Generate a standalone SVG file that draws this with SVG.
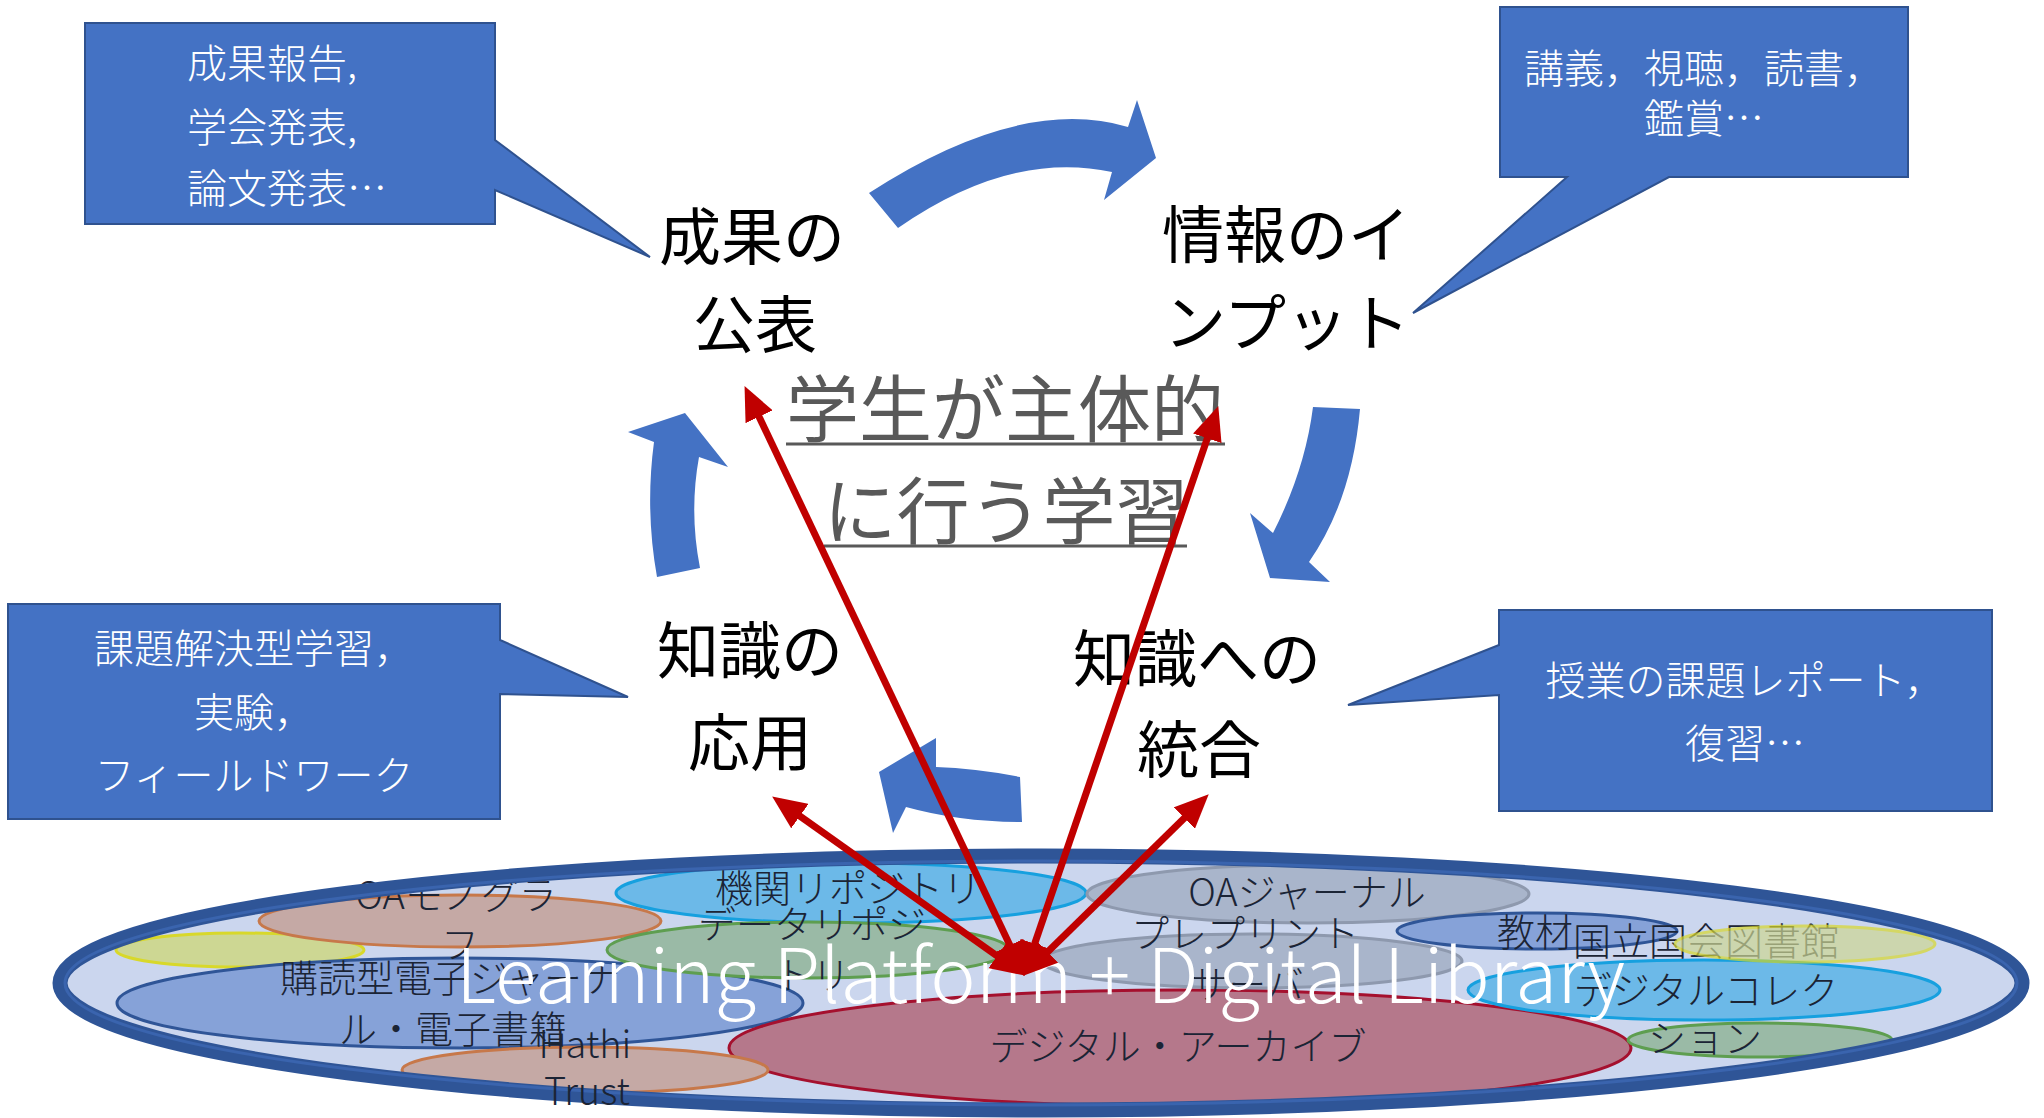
<svg xmlns="http://www.w3.org/2000/svg" width="2044" height="1118" viewBox="0 0 2044 1118">
<defs>
<style>
text{font-family:'Noto Sans CJK JP','Noto Sans',sans-serif}
.callout{fill:#4472C4;stroke:#2F528F;stroke-width:2}
.ct{font-size:40px;fill:#fff;font-weight:300}
.lb{font-size:62px;fill:#000;text-anchor:middle}
.cen{font-size:73px;fill:#595959;text-anchor:middle}
.ul{stroke:#595959;stroke-width:3}
.cyc{fill:#4472C4}
.red{stroke:#C00000;stroke-width:7;fill:none;marker-start:url(#ah);marker-end:url(#ah)}
.et{font-size:38px;fill:#1B2435;font-weight:300;text-anchor:middle}
.tan{fill:#C5A9A5;stroke:#C7784A;stroke-width:3}
.yel{fill:#CDD793;stroke:#D8D82A;stroke-width:3}
.mblue{fill:#86A2D8;stroke:#2F5597;stroke-width:3}
.sky{fill:#6CB9E8;stroke:#16A0DF;stroke-width:3}
.sage{fill:#9ABAA6;stroke:#5E9E50;stroke-width:3}
.gray{fill:#A9B5CB;stroke:#8E99AE;stroke-width:3}
.maroon{fill:#B5788B;stroke:#A5102E;stroke-width:3}
</style>
<marker id="ah" viewBox="0 0 34 30" refX="25" refY="15" markerUnits="userSpaceOnUse" markerWidth="34" markerHeight="30" orient="auto-start-reverse">
<path d="M0,0 L34,15 L0,30 Z" fill="#C00000"/>
</marker>
</defs>
<rect width="2044" height="1118" fill="#fff"/>

<!-- callouts -->
<g id="callout-publish">
<path class="callout" d="M85,23 H495 V140 L650,257 L495,190 V224 H85 Z"/>
<text class="ct" x="187" y="78">成果報告,</text>
<text class="ct" x="187" y="142">学会発表,</text>
<text class="ct" x="187" y="203">論文発表…</text>
</g>
<g id="callout-input">
<path class="callout" d="M1500,7 H1908 V177 H1669 L1413,313 L1567,177 H1500 Z"/>
<text class="ct" x="1704" y="83" text-anchor="middle">講義，視聴，読書，</text>
<text class="ct" x="1704" y="133" text-anchor="middle">鑑賞…</text>
</g>
<g id="callout-apply">
<path class="callout" d="M8,604 H500 V640 L628,697 L500,694 V819 H8 Z"/>
<text class="ct" x="254" y="663" text-anchor="middle">課題解決型学習，</text>
<text class="ct" x="254" y="727" text-anchor="middle">実験，</text>
<text class="ct" x="254" y="790" text-anchor="middle">フィールドワーク</text>
</g>
<g id="callout-integrate">
<path class="callout" d="M1499,610 H1992 V811 H1499 V695 L1348,705 L1499,645 Z"/>
<text class="ct" x="1745" y="695" text-anchor="middle">授業の課題レポート，</text>
<text class="ct" x="1745" y="758" text-anchor="middle">復習…</text>
</g>

<!-- cycle arrows -->
<g id="cycle-arrows">
<path class="cyc" d="M869,193 Q1020,95 1128,127 L1137,100 L1156,158 L1104,200 L1112,172 Q1010,150 898,228 Z"/>
<path class="cyc" d="M1313,407 L1360,409 Q1352,500 1309,562 L1330,582 L1270,578 L1250,513 L1273,533 Q1305,470 1313,407 Z"/>
<path class="cyc" d="M1020,777 Q975,768 936,767 L936,738 L879,772 L893,833 L906,807 Q960,822 1022,822 Z"/>
<path class="cyc" d="M657,577 L700,568 Q689,512 699,457 L728,467 L685,413 L628,432 L654,442 Q645,510 657,577 Z"/>
</g>

<!-- main labels -->
<g id="node-publish">
<text class="lb" x="752" y="260">成果の</text>
<text class="lb" x="755" y="348">公表</text>
</g>
<g id="node-input">
<text class="lb" x="1286" y="258">情報のイ</text>
<text class="lb" x="1287" y="346">ンプット</text>
</g>
<g id="node-apply">
<text class="lb" x="750" y="674">知識の</text>
<text class="lb" x="750" y="766">応用</text>
</g>
<g id="node-integrate">
<text class="lb" x="1197" y="682">知識への</text>
<text class="lb" x="1199" y="773">統合</text>
</g>
<g id="node-center">
<text class="cen" x="1005" y="436">学生が主体的</text>
<line class="ul" x1="786" y1="444" x2="1225" y2="444"/>
<text class="cen" x="1006" y="538">に行う学習</text>
<line class="ul" x1="824" y1="546" x2="1187" y2="546"/>
</g>

<!-- platform -->
<g id="platform">
<ellipse cx="1041" cy="983" rx="988" ry="134" fill="#CBD6EE"/>
<ellipse class="yel" cx="240" cy="950" rx="124" ry="17"/>
<ellipse class="tan" cx="460" cy="921" rx="201" ry="26"/>
<ellipse class="mblue" cx="460" cy="1003" rx="343" ry="45"/>
<ellipse class="maroon" cx="1180" cy="1048" rx="451" ry="58"/>
<ellipse class="tan" cx="585" cy="1070" rx="183" ry="23"/>
<ellipse class="sky" cx="851" cy="893" rx="235" ry="30"/>
<ellipse class="sage" cx="808" cy="950" rx="201" ry="28"/>
<ellipse class="gray" cx="1308" cy="894" rx="221" ry="29"/>
<ellipse class="gray" cx="1252" cy="961" rx="210" ry="27"/>
<ellipse class="mblue" cx="1537" cy="931" rx="140" ry="18"/>
<ellipse class="sky" cx="1704" cy="990" rx="236" ry="30"/>
<ellipse class="sage" cx="1760" cy="1040" rx="132" ry="17"/>
<text class="et" x="1706" y="955">国立国会図書館</text>
<ellipse class="yel" cx="1805" cy="944" rx="130" ry="18" opacity="0.7"/>
<text class="et" x="456" y="909">OAモノグラ</text>
<ellipse cx="1041" cy="983" rx="981" ry="127" fill="none" stroke="#2F5597" stroke-width="15"/>
<ellipse cx="1041" cy="983" rx="976" ry="122" fill="none" stroke="#3A64AE" stroke-width="3"/>
<text class="et" x="460" y="958">フ</text>
<text class="et" x="848" y="902">機関リポジトリ</text>
<text class="et" x="812" y="938">データリポジ</text>
<text class="et" x="812" y="989">トリ</text>
<text class="et" x="450" y="992">購読型電子ジャーナ</text>
<text class="et" x="453" y="1043">ル・電子書籍</text>
<text class="et" x="585" y="1058">Hathi</text>
<text class="et" x="587" y="1105">Trust</text>
<text class="et" x="1307" y="906">OAジャーナル</text>
<text class="et" x="1245" y="947">プレプリント</text>
<text class="et" x="1247" y="998">サーバ</text>
<text class="et" x="1535" y="946">教材</text>
<text class="et" x="1706" y="1004">デジタルコレク</text>
<text class="et" x="1705" y="1052">ション</text>
<text class="et" x="1178" y="1060">デジタル・アーカイブ</text>
<text x="456" y="1003" textLength="1169" lengthAdjust="spacingAndGlyphs" style="font-size:75px;fill:#fff;font-weight:300">Learning Platform + Digital Library</text>
</g>

<!-- connectors -->
<g id="connectors">
<line class="red" x1="1020.6" y1="967.8" x2="748.4" y2="394.2"/>
<line class="red" x1="1026.6" y1="967.4" x2="1215.4" y2="414.6"/>
<line class="red" x1="1017.5" y1="970.4" x2="779.5" y2="801.6"/>
<line class="red" x1="1029.7" y1="969.4" x2="1202.3" y2="800.6"/>
</g>
</svg>
